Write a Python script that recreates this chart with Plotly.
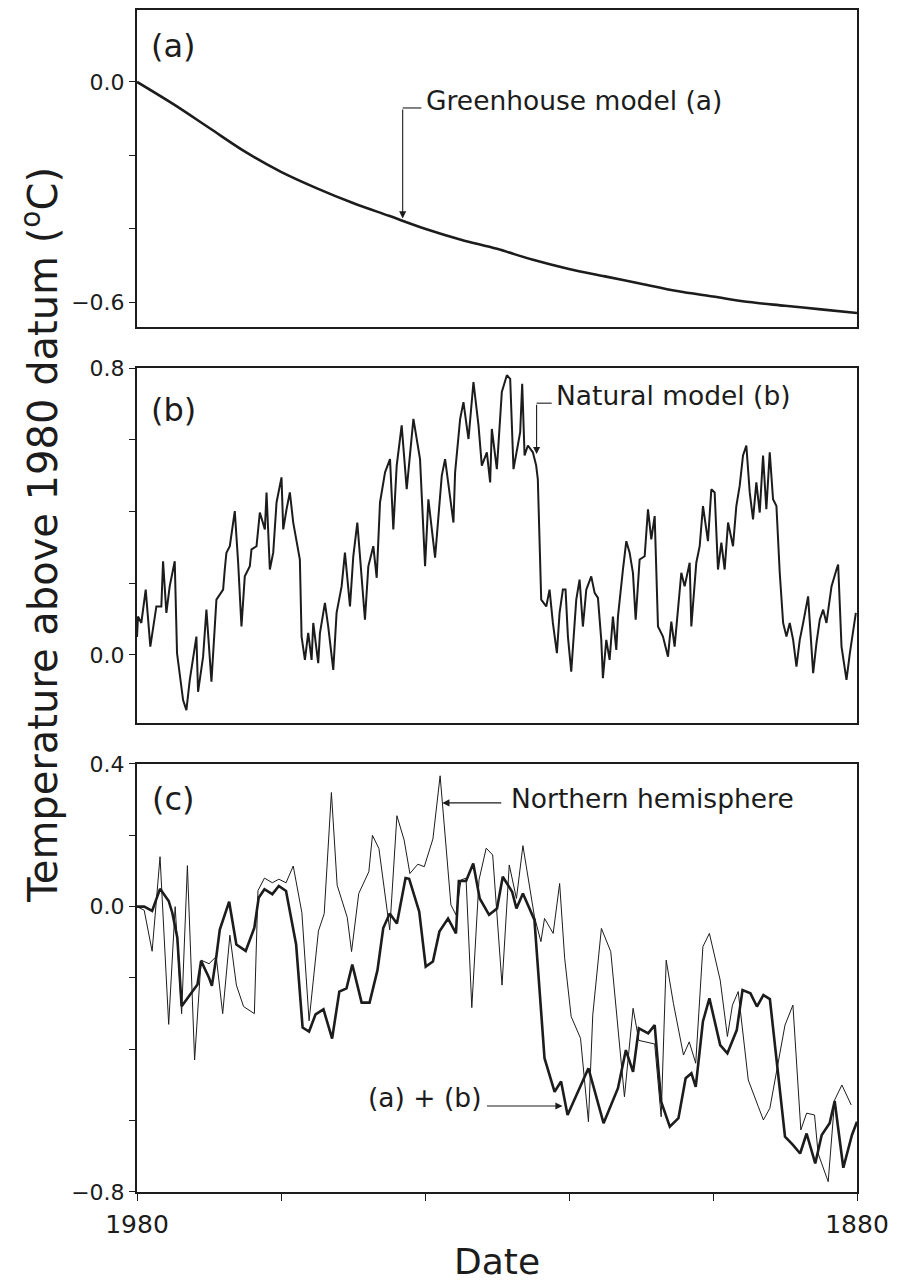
import plotly.graph_objects as go

# ---------------- data ----------------
# (a) Greenhouse model
gh_years = [1980, 1975, 1970, 1965, 1960, 1955, 1950, 1945, 1940, 1935, 1930,
            1925, 1920, 1915, 1910, 1905, 1900, 1895, 1890, 1885, 1880]
gh_temp = [0.00, -0.06, -0.125, -0.19, -0.245, -0.29, -0.33, -0.365, -0.40, -0.43, -0.455,
           -0.485, -0.51, -0.53, -0.55, -0.57, -0.585, -0.60, -0.61, -0.62, -0.63]

# (b) Natural model
nat_years = [1980.0, 1979.86, 1979.40, 1978.79, 1978.15, 1977.31, 1976.62, 1976.38, 1975.92, 1975.46,
             1974.76, 1974.44, 1973.60, 1973.14, 1972.67, 1971.75, 1971.52, 1970.82, 1970.36, 1969.66,
             1968.97, 1968.04, 1967.81, 1967.58, 1967.11, 1966.42, 1965.95, 1965.49, 1965.03, 1964.33,
             1964.10, 1963.40, 1962.94, 1962.24, 1962.01, 1961.55, 1961.08, 1960.62, 1959.93, 1959.69,
             1959.23, 1958.77, 1958.30, 1957.38, 1957.14, 1956.68, 1956.22, 1955.75, 1955.52, 1954.83,
             1954.59, 1953.90, 1953.44, 1952.74, 1952.28, 1951.58, 1951.12, 1950.42, 1949.96, 1949.40,
             1949.03, 1948.34, 1947.87, 1947.18, 1946.71, 1946.25, 1945.55, 1944.86, 1944.40, 1943.93,
             1943.24, 1942.54, 1941.61, 1940.69, 1939.99, 1939.53, 1938.60, 1937.67, 1937.21, 1936.05,
             1935.82, 1935.12, 1934.66, 1933.96, 1933.27, 1932.57, 1932.11, 1931.41, 1930.95, 1930.72,
             1930.02, 1929.33, 1928.63, 1928.17, 1927.71, 1926.78, 1926.50, 1926.17, 1925.71, 1925.02,
             1924.56, 1924.33, 1923.86, 1923.16, 1922.70, 1922.24, 1921.68, 1921.31, 1920.85, 1920.48,
             1920.15, 1919.69, 1918.99, 1918.53, 1918.07, 1917.60, 1916.91, 1916.44, 1915.98, 1915.52,
             1915.29, 1914.82, 1914.36, 1913.90, 1913.43, 1913.20, 1912.51, 1912.04, 1911.58, 1911.12,
             1910.74, 1910.19, 1909.49, 1909.03, 1908.57, 1908.10, 1907.64, 1906.95, 1906.25, 1905.79,
             1905.33, 1904.86, 1904.40, 1903.94, 1903.24, 1903.01, 1902.32, 1901.85, 1901.39, 1900.70,
             1900.23, 1899.77, 1899.31, 1898.84, 1898.38, 1897.91, 1897.22, 1896.76, 1896.29, 1895.83,
             1895.37, 1894.90, 1894.44, 1893.98, 1893.51, 1893.05, 1892.59, 1892.12, 1891.66, 1891.19,
             1890.73, 1890.26, 1889.80, 1889.34, 1888.87, 1888.41, 1887.95, 1887.48, 1886.79, 1886.09,
             1885.63, 1885.17, 1884.70, 1884.24, 1883.54, 1882.85, 1882.62, 1882.15, 1881.46, 1880.99,
             1880.53, 1880.16]
nat_temp = [0.05, 0.107, 0.089, 0.182, 0.023, 0.135, 0.135, 0.261, 0.117, 0.191,
            0.261, 0.005, -0.126, -0.154, -0.070, 0.051, -0.103, -0.005, 0.126, -0.075,
            0.154, 0.182, 0.238, 0.285, 0.303, 0.401, 0.257, 0.079, 0.219, 0.247,
            0.294, 0.303, 0.397, 0.350, 0.453, 0.238, 0.285, 0.425, 0.495, 0.350,
            0.406, 0.453, 0.369, 0.266, 0.051, -0.014, 0.061, -0.014, 0.089, -0.023,
            0.061, 0.145, 0.079, -0.042, 0.117, 0.191, 0.285, 0.135, 0.275, 0.369,
            0.275, 0.098, 0.247, 0.303, 0.215, 0.425, 0.509, 0.546, 0.350, 0.528,
            0.640, 0.462, 0.658, 0.546, 0.247, 0.434, 0.271, 0.500, 0.546, 0.369,
            0.509, 0.658, 0.705, 0.602, 0.761, 0.640, 0.528, 0.565, 0.481, 0.630,
            0.518, 0.733, 0.780, 0.770, 0.518, 0.621, 0.756, 0.556, 0.584, 0.565,
            0.528, 0.490, 0.154, 0.135, 0.182, 0.089, 0.005, 0.117, 0.182, 0.182,
            0.051, -0.047, 0.154, 0.210, 0.079, 0.182, 0.219, 0.173, 0.159, 0.042,
            -0.065, 0.042, -0.014, 0.107, 0.014, 0.107, 0.238, 0.317, 0.285, 0.229,
            0.098, 0.266, 0.275, 0.406, 0.322, 0.387, 0.079, 0.051, -0.005, 0.093,
            0.023, 0.126, 0.229, 0.191, 0.257, 0.079, 0.257, 0.303, 0.415, 0.317,
            0.462, 0.453, 0.238, 0.313, 0.238, 0.369, 0.303, 0.415, 0.472, 0.556,
            0.584, 0.453, 0.378, 0.481, 0.397, 0.556, 0.406, 0.565, 0.434, 0.415,
            0.229, 0.089, 0.051, 0.089, 0.042, -0.033, 0.042, 0.089, 0.163, -0.051,
            0.033, 0.098, 0.126, 0.089, 0.191, 0.238, 0.252, 0.023, -0.070, 0.005,
            0.061, 0.117]

# (c) Northern hemisphere observations
nh_years = [1980.0, 1979.0, 1977.9, 1976.8, 1975.6, 1974.7, 1973.8, 1973.0, 1972.0, 1971.1,
            1970.0, 1969.0, 1968.1, 1967.1, 1966.2, 1965.2, 1963.7, 1963.2, 1962.3, 1961.2,
            1960.3, 1959.3, 1958.3, 1957.1, 1956.1, 1954.8, 1954.0, 1953.0, 1952.2, 1950.8,
            1950.2, 1949.2, 1947.8, 1947.3, 1946.4, 1944.9, 1943.9, 1942.9, 1942.1, 1941.0,
            1940.1, 1938.9, 1937.9, 1936.4, 1935.7, 1935.0, 1934.3, 1933.5, 1932.5, 1931.5,
            1930.6, 1929.3, 1928.3, 1927.3, 1926.4, 1924.8, 1923.9, 1923.4, 1922.2, 1921.3,
            1920.6, 1919.7, 1918.4, 1917.3, 1916.7, 1915.5, 1914.2, 1912.3, 1911.1, 1910.3,
            1908.1, 1907.2, 1906.5, 1905.5, 1904.1, 1903.3, 1902.4, 1901.4, 1900.5, 1899.0,
            1898.0, 1897.3, 1896.5, 1895.1, 1893.7, 1893.0, 1892.1, 1890.0, 1888.9, 1887.8,
            1887.0, 1885.9, 1885.4, 1884.0, 1883.1, 1882.1, 1880.8]
nh_temp = [0.00, -0.01, -0.125, 0.14, -0.33, 0.00, -0.30, 0.115, -0.43, -0.15,
           -0.16, -0.14, -0.30, -0.08, -0.22, -0.28, -0.30, 0.045, 0.08, 0.067,
           0.077, 0.067, 0.114, -0.017, -0.32, -0.068, -0.02, 0.32, 0.06, -0.03,
           -0.126, 0.037, 0.098, 0.20, 0.163, -0.065, 0.255, 0.187, 0.093, 0.119,
           0.112, 0.19, 0.367, 0.005, -0.023, 0.075, 0.08, -0.283, 0.075, 0.164,
           0.145, -0.22, 0.117, 0.023, 0.171, -0.028, -0.098, -0.033, -0.075, 0.065,
           -0.145, -0.308, -0.369, -0.603, -0.304, -0.061, -0.126, -0.533, -0.285, -0.375,
           -0.385, -0.589, -0.15, -0.271, -0.416, -0.379, -0.439, -0.112, -0.075, -0.206,
           -0.364, -0.276, -0.238, -0.486, -0.561, -0.598, -0.565, -0.332, -0.276, -0.626,
           -0.579, -0.584, -0.692, -0.771, -0.542, -0.50, -0.556]

# (c) (a) + (b)
ab_years = [1980.0, 1979.0, 1977.9, 1976.8, 1975.6, 1975.1, 1974.4, 1973.8, 1971.6, 1971.1,
            1970.0, 1969.6, 1969.0, 1968.5, 1967.2, 1966.2, 1964.9, 1963.7, 1963.1, 1962.3,
            1961.2, 1960.3, 1959.3, 1957.9, 1957.0, 1956.1, 1955.2, 1954.1, 1952.9, 1951.9,
            1950.9, 1950.1, 1948.8, 1947.7, 1946.6, 1945.8, 1944.9, 1943.9, 1942.7, 1942.2,
            1940.8, 1939.9, 1938.9, 1938.0, 1936.8, 1935.7, 1935.3, 1934.3, 1933.3, 1932.4,
            1931.1, 1930.0, 1929.2, 1927.9, 1927.3, 1926.4, 1924.8, 1923.4, 1922.0, 1921.1,
            1920.2, 1919.0, 1917.3, 1915.2, 1913.2, 1912.1, 1911.1, 1910.3, 1909.0, 1908.1,
            1907.2, 1906.0, 1904.8, 1903.8, 1903.0, 1902.4, 1901.4, 1900.5, 1899.0, 1898.0,
            1896.7, 1895.9, 1894.8, 1893.9, 1893.0, 1892.1, 1890.0, 1888.9, 1887.9, 1887.0,
            1885.8, 1884.9, 1883.8, 1883.1, 1881.9, 1880.7, 1880.0]
ab_temp = [0.000, 0.000, -0.012, 0.050, 0.016, -0.017, -0.087, -0.279, -0.218, -0.152,
           -0.199, -0.222, -0.143, -0.064, 0.014, -0.106, -0.124, -0.059, 0.025, 0.049,
           0.035, 0.058, 0.044, -0.106, -0.339, -0.350, -0.302, -0.288, -0.370, -0.238,
           -0.229, -0.162, -0.269, -0.269, -0.178, -0.060, -0.019, -0.047, 0.080, 0.078,
           -0.014, -0.168, -0.154, -0.070, -0.033, -0.075, 0.072, 0.072, 0.121, 0.023,
           -0.023, -0.005, 0.084, 0.042, -0.005, 0.037, -0.037, -0.425, -0.519, -0.490,
           -0.584, -0.528, -0.453, -0.607, -0.509, -0.402, -0.463, -0.341, -0.355, -0.332,
           -0.547, -0.617, -0.593, -0.481, -0.467, -0.505, -0.322, -0.257, -0.388, -0.411,
           -0.346, -0.234, -0.243, -0.280, -0.248, -0.259, -0.645, -0.668, -0.692, -0.636,
           -0.720, -0.640, -0.607, -0.545, -0.732, -0.640, -0.603]

x_ticks = [1980, 1960, 1940, 1920, 1900, 1880]
x_ticktext = ["1980", "", "", "", "", "1880"]
ya_ticks = [0.0, -0.2, -0.4, -0.6]
ya_text = ["0.0", "", "", "\u22120.6"]
yb_ticks = [0.8, 0.6, 0.4, 0.2, 0.0]
yb_text = ["0.8", "", "", "", "0.0"]
yc_ticks = [0.4, 0.2, 0.0, -0.2, -0.4, -0.6, -0.8]
yc_text = ["0.4", "", "0.0", "", "", "", "\u22120.8"]

# ---------------- figure ----------------
INK = "#1c1c1c"
FONT = "DejaVu Sans"

fig = go.Figure()
fig.add_trace(go.Scatter(x=gh_years, y=gh_temp, mode="lines", line=dict(color=INK, width=2.6, shape="spline"),
                         xaxis="x3", yaxis="y3", showlegend=False))
fig.add_trace(go.Scatter(x=nat_years, y=nat_temp, mode="lines", line=dict(color=INK, width=2.0),
                         xaxis="x2", yaxis="y2", showlegend=False))
fig.add_trace(go.Scatter(x=nh_years, y=nh_temp, mode="lines", line=dict(color=INK, width=1.0),
                         xaxis="x", yaxis="y", showlegend=False))
fig.add_trace(go.Scatter(x=ab_years, y=ab_temp, mode="lines", line=dict(color=INK, width=2.6),
                         xaxis="x", yaxis="y", showlegend=False))

y_common = dict(showline=True, linecolor=INK, linewidth=2, mirror=True, showgrid=False,
                zeroline=False, ticks="outside", tickcolor=INK, ticklen=6, tickwidth=1.2,
                tickfont=dict(family=FONT, size=22, color=INK))
x_plain = dict(domain=[0, 1], range=[1980, 1880], showline=True, linecolor=INK, linewidth=2,
               mirror=True, showgrid=False, zeroline=False, showticklabels=False, ticks="")

# the page body has an 8 px margin; the figure is sized so the plot lands where the reference has it
fig.update_layout(
    width=889, height=1275,
    margin=dict(l=129, r=40, t=2, b=91, autoexpand=False),
    paper_bgcolor="white", plot_bgcolor="white",
    xaxis=dict(domain=[0, 1], range=[1980, 1880], anchor="y", tickvals=x_ticks, ticktext=x_ticktext,
               showline=True, linecolor=INK, linewidth=2, mirror=True, showgrid=False, zeroline=False,
               ticks="outside", tickcolor=INK, ticklen=7, tickwidth=1.2, ticklabelstandoff=2,
               tickfont=dict(family=FONT, size=25, color=INK)),
    xaxis2=dict(anchor="y2", **x_plain),
    xaxis3=dict(anchor="y3", **x_plain),
    yaxis=dict(domain=[0, 0.3621], range=[-0.8, 0.4], anchor="x", tickvals=yc_ticks, ticktext=yc_text, **y_common),
    yaxis2=dict(domain=[0.3968, 0.6971], range=[-0.19, 0.8], anchor="x2", tickvals=yb_ticks, ticktext=yb_text, **y_common),
    yaxis3=dict(domain=[0.7318, 1.0], range=[-0.668, 0.196], anchor="x3", tickvals=ya_ticks, ticktext=ya_text, **y_common),
)

txt = dict(family=FONT, size=26.5, color=INK)
ann = []
# panel letters
for lab, py in (("(a)", 0.9695), ("(b)", 0.6616), ("(c)", 0.3325)):
    ann.append(dict(text=lab, xref="paper", yref="paper", x=0.05, y=py, xanchor="center", yanchor="middle",
                    showarrow=False, font=dict(family=FONT, size=32, color=INK)))

# Greenhouse model leader
ann.append(dict(text="", x=1943.1, y=-0.372, ax=1943.1, ay=-0.071, xref="x3", yref="y3", axref="x3", ayref="y3",
                showarrow=True, arrowhead=2, arrowsize=1.3, arrowwidth=1.1, arrowcolor=INK))
ann.append(dict(text="Greenhouse model (a)", x=1940.1, y=-0.052, xref="x3", yref="y3", xanchor="left",
                yanchor="middle", showarrow=False, font=txt))
# Natural model leader
ann.append(dict(text="", x=1924.5, y=0.56, ax=1924.5, ay=0.702, xref="x2", yref="y2", axref="x2", ayref="y2",
                showarrow=True, arrowhead=2, arrowsize=1.3, arrowwidth=1.1, arrowcolor=INK))
ann.append(dict(text="Natural model (b)", x=1922.1, y=0.722, xref="x2", yref="y2", xanchor="left",
                yanchor="middle", showarrow=False, font=txt))
# Northern hemisphere
ann.append(dict(text="", x=1937.6, y=0.291, ax=1929.2, ay=0.291, xref="x", yref="y", axref="x", ayref="y",
                showarrow=True, arrowhead=2, arrowsize=1.3, arrowwidth=1.1, arrowcolor=INK))
ann.append(dict(text="Northern hemisphere", x=1928.4, y=0.302, xref="x", yref="y", xanchor="left",
                yanchor="middle", showarrow=False, font=txt))
# (a) + (b)
ann.append(dict(text="", x=1920.9, y=-0.559, ax=1931.6, ay=-0.559, xref="x", yref="y", axref="x", ayref="y",
                showarrow=True, arrowhead=2, arrowsize=1.3, arrowwidth=1.1, arrowcolor=INK))
ann.append(dict(text="(a) + (b)", x=1932.0, y=-0.536, xref="x", yref="y", xanchor="right",
                yanchor="middle", showarrow=False, font=txt))

# axis titles
ann.append(dict(text="Date", xref="paper", yref="paper", x=0.5, y=-0.059, xanchor="center", yanchor="middle",
                showarrow=False, font=dict(family=FONT, size=36, color=INK)))
ann.append(dict(text="Temperature above 1980 datum (<sup>o</sup>C)", xref="paper", yref="paper",
                x=-0.135, y=0.5558, xanchor="center", yanchor="middle", textangle=-90, showarrow=False,
                font=dict(family=FONT, size=40, color=INK)))

fig.update_layout(annotations=ann,
                  shapes=[
                      dict(type="line", xref="x3", yref="y3", x0=1943.1, x1=1940.5, y0=-0.071, y1=-0.071,
                           line=dict(color=INK, width=1.1)),
                      dict(type="line", xref="x2", yref="y2", x0=1924.5, x1=1922.4, y0=0.702, y1=0.702,
                           line=dict(color=INK, width=1.1)),
                  ])

fig.write_html("out.html")
